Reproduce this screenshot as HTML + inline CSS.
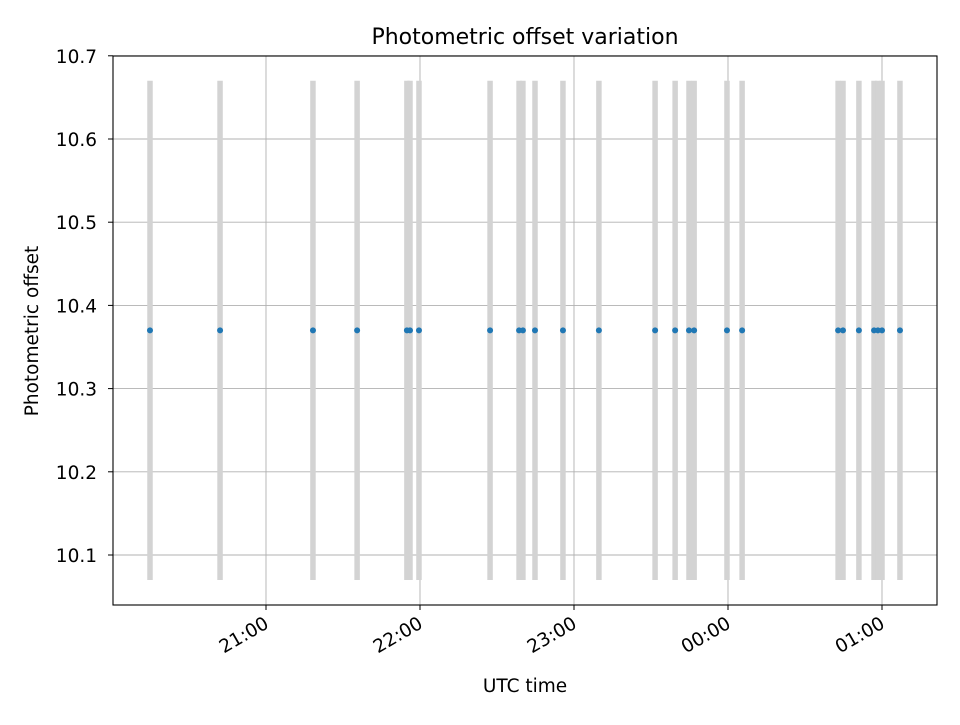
<!DOCTYPE html>
<html><head><meta charset="utf-8"><style>
body{margin:0;background:#fff;}
svg text{font-family:"DejaVu Sans","Liberation Sans",sans-serif;fill:#000;}
</style></head><body>
<svg id="chart" width="960" height="720" viewBox="0 0 960 720" xmlns="http://www.w3.org/2000/svg">
<rect width="960" height="720" fill="#fff"/>
<g id="grid"></g>
<g id="bars"></g>
<g id="points"></g>
<rect x="113" y="56" width="824" height="549" fill="none" stroke="#000" stroke-width="1.1"/>
<g id="ticks"></g>
<text x="525" y="44" style="font-size:22px" text-anchor="middle">Photometric offset variation</text>
<text x="525" y="692" style="font-size:18.5px" text-anchor="middle">UTC time</text>
<text x="38" y="331" style="font-size:18.5px" text-anchor="middle" transform="rotate(-90 38 331)">Photometric offset</text>
</svg>
<script>
// minutes after 20:00 UTC
const obsMinutes = [14.8,42.1,78.3,95.5,114.9,116.1,119.6,147.3,158.6,160.1,164.8,175.7,189.7,211.6,219.4,224.8,226.8,239.6,245.5,282.9,284.8,291.0,296.9,298.4,300.0,307.0];
const offsets = [10.37,10.37,10.37,10.37,10.37,10.37,10.37,10.37,10.37,10.37,10.37,10.37,10.37,10.37,10.37,10.37,10.37,10.37,10.37,10.37,10.37,10.37,10.37,10.37,10.37,10.37];
const errors = [0.3,0.3,0.3,0.3,0.3,0.3,0.3,0.3,0.3,0.3,0.3,0.3,0.3,0.3,0.3,0.3,0.3,0.3,0.3,0.3,0.3,0.3,0.3,0.3,0.3,0.3];
const xTickMinutes = [60,120,180,240,300];
const xTickLabels = ["21:00","22:00","23:00","00:00","01:00"];
const yTicks = [10.1,10.2,10.3,10.4,10.5,10.6,10.7];
const yTickLabels = ["10.1","10.2","10.3","10.4","10.5","10.6","10.7"];

const NS="http://www.w3.org/2000/svg";
const L=113,R=937,T=56,B=605;
function xScale(m){return 112+m*154/60;}
function yScale(v){return 555-(v-10.1)*832;}
function mk(tag,attrs,parent){const e=document.createElementNS(NS,tag);for(const k in attrs)e.setAttribute(k,attrs[k]);document.getElementById(parent).appendChild(e);return e;}

xTickMinutes.forEach((m,i)=>{
  const x=xScale(m);
  const g=mk('line',{x1:x,x2:x,y1:T,y2:B,stroke:'#b0b0b0','stroke-width':0.9},'grid');
  
  
  const t=mk('line',{x1:x,x2:x,y1:B,y2:B+5,stroke:'#000','stroke-width':1},'ticks');
  
  
  const lb=mk('text',{x:x+4,y:B+22,style:'font-size:18.5px','text-anchor':'end',transform:`rotate(-30 ${x+4} ${B+22})`},'ticks');
  lb.textContent=xTickLabels[i];
  
  
});
yTicks.forEach((v,i)=>{
  const y=yScale(v);
  const g=mk('line',{x1:L,x2:R,y1:y,y2:y,stroke:'#b0b0b0','stroke-width':0.9},'grid');
  
  
  const t=mk('line',{x1:L-5,x2:L,y1:y,y2:y,stroke:'#000','stroke-width':1},'ticks');
  
  
  const lb=mk('text',{x:L-16,y:y+7,style:'font-size:18.5px','text-anchor':'end'},'ticks');
  lb.textContent=yTickLabels[i];
  
  
});
obsMinutes.forEach((m,i)=>{
  const x=xScale(m);
  const b=mk('line',{x1:x,x2:x,y1:yScale(offsets[i]+errors[i]),y2:yScale(offsets[i]-errors[i]),stroke:'#d3d3d3','stroke-width':5.5},'bars');
  
  
  const p=mk('circle',{cx:x,cy:yScale(offsets[i]),r:3,fill:'#1f77b4'},'points');
  
  
});
</script>
</body></html>
